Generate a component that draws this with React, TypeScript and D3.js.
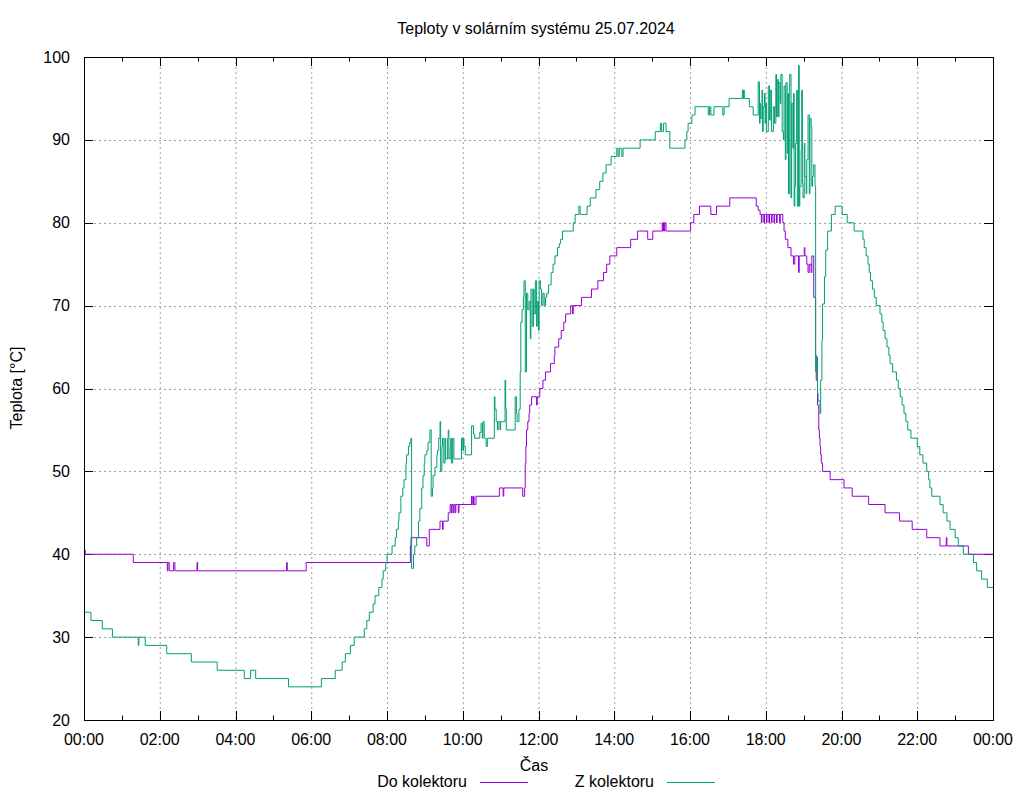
import React from "react";
import * as d3 from "d3";

// ---- data (time "HH:MM", temperature °C), values hold until next point ----
const doKolektoru: [string, number][] = [
  ["00:00", 40.5], ["00:02", 40], ["01:18", 39], ["02:12", 38], ["02:13", 39], ["02:15", 38],
  ["02:22", 39], ["02:24", 38], ["02:59", 39], ["03:00", 38], ["05:21", 39], ["05:22", 38],
  ["05:52", 39], ["08:37", 41], ["08:38", 42], ["09:03", 41], ["09:07", 43], ["09:24", 44],
  ["09:28", 43], ["09:29", 44], ["09:37", 45], ["09:40", 46], ["09:42", 45], ["09:43", 46],
  ["09:45", 45], ["09:46", 46], ["09:48", 45], ["09:49", 46], ["09:53", 45], ["09:54", 46],
  ["10:14", 47], ["10:15", 46], ["10:17", 47], ["10:18", 46], ["10:21", 47], ["10:58", 48],
  ["11:04", 47], ["11:05", 48], ["11:35", 47], ["11:38", 48], ["11:39", 51], ["11:40", 53],
  ["11:41", 55], ["11:43", 56], ["11:45", 57], ["11:46", 58], ["11:49", 59], ["11:57", 58],
  ["11:58", 59], ["12:02", 60], ["12:07", 61], ["12:11", 62], ["12:19", 63], ["12:25", 64],
  ["12:26", 65], ["12:32", 66], ["12:36", 67], ["12:40", 68], ["12:43", 69], ["12:51", 70],
  ["12:54", 69], ["12:55", 70], ["13:08", 71], ["13:24", 72], ["13:34", 73], ["13:43", 74],
  ["13:48", 75], ["13:53", 76], ["14:04", 77], ["14:26", 78], ["14:37", 79], ["14:53", 78],
  ["15:01", 79], ["15:16", 80], ["15:17", 79], ["15:18", 80], ["15:19", 79], ["15:20", 80],
  ["15:22", 79], ["16:01", 80], ["16:06", 81], ["16:15", 82], ["16:33", 81], ["16:42", 82],
  ["17:03", 83], ["17:45", 82], ["17:48", 81.5], ["17:51", 81], ["17:53", 80], ["17:54", 81],
  ["17:57", 80], ["17:58", 81], ["18:01", 80], ["18:02", 81], ["18:05", 80], ["18:06", 81],
  ["18:09", 80], ["18:10", 81], ["18:13", 80], ["18:14", 81], ["18:17", 80], ["18:18", 81],
  ["18:22", 80], ["18:23", 81], ["18:27", 80], ["18:29", 79], ["18:31", 78], ["18:35", 77],
  ["18:40", 76], ["18:44", 75], ["18:46", 76], ["18:52", 74], ["18:53", 76], ["19:01", 77],
  ["19:02", 76], ["19:05", 75], ["19:07", 74], ["19:09", 75], ["19:12", 74], ["19:13", 76],
  ["19:16", 71], ["19:19", 64], ["19:20", 61], ["19:22", 58], ["19:24", 55], ["19:25", 54],
  ["19:26", 53], ["19:27", 52], ["19:28", 51], ["19:30", 50], ["19:42", 49], ["20:04", 48],
  ["20:17", 47], ["20:43", 46], ["21:09", 45], ["21:32", 44], ["21:52", 43], ["22:15", 42],
  ["22:36", 41], ["22:46", 42], ["22:47", 41], ["23:21", 40],
];

const zKolektoru: [string, number][] = [
  ["00:00", 33], ["00:11", 32], ["00:29", 31], ["00:45", 30], ["01:26", 29], ["01:27", 30],
  ["01:37", 29], ["02:11", 28], ["02:50", 27], ["03:31", 26], ["04:14", 25], ["04:24", 26],
  ["04:32", 25], ["05:24", 24], ["06:16", 25], ["06:38", 26], ["06:49", 27], ["06:54", 28],
  ["07:02", 29], ["07:08", 30], ["07:24", 31], ["07:28", 32], ["07:32", 33], ["07:38", 34],
  ["07:41", 35], ["07:47", 36], ["07:52", 37], ["07:54", 38], ["07:58", 39], ["08:00", 40],
  ["08:08", 41], ["08:13", 42], ["08:15", 43], ["08:18", 44], ["08:19", 45], ["08:22", 47],
  ["08:25", 48], ["08:27", 49], ["08:30", 51], ["08:31", 52], ["08:34", 53], ["08:36", 53.5],
  ["08:38", 54], ["08:39", 38.3], ["08:42", 40], ["08:44", 41], ["08:47", 42], ["08:50", 44],
  ["08:52", 45.5], ["08:55", 48], ["08:57", 49.5], ["08:59", 51], ["09:00", 52], ["09:03", 52.5],
  ["09:05", 53.5], ["09:08", 55], ["09:10", 47], ["09:12", 48], ["09:13", 49.5], ["09:16", 50.5],
  ["09:19", 52], ["09:20", 52.5], ["09:22", 54], ["09:24", 56], ["09:25", 50], ["09:27", 53],
  ["09:28", 54], ["09:30", 51], ["09:32", 54], ["09:33", 51.5], ["09:36", 54], ["09:37", 55],
  ["09:38", 51.5], ["09:40", 53], ["09:41", 54], ["09:42", 51], ["09:44", 54], ["09:46", 51.5],
  ["09:58", 54], ["10:00", 52.5], ["10:01", 54], ["10:02", 53], ["10:04", 52], ["10:14", 55.5],
  ["10:17", 54.5], ["10:19", 54], ["10:27", 54.7], ["10:29", 55.8], ["10:31", 54], ["10:32", 56],
  ["10:34", 54], ["10:37", 53], ["10:39", 54], ["10:50", 59], ["10:51", 57.5], ["10:53", 56],
  ["10:55", 55], ["10:56", 56], ["10:59", 55], ["11:00", 56], ["11:07", 61], ["11:08", 57.5],
  ["11:09", 55], ["11:23", 59], ["11:25", 57], ["11:26", 56], ["11:29", 57.5], ["11:31", 62],
  ["11:32", 68], ["11:34", 69.5], ["11:36", 71], ["11:37", 73], ["11:39", 62], ["11:41", 71.5],
  ["11:43", 69.5], ["11:45", 70.5], ["11:47", 66], ["11:48", 72], ["11:50", 67.5], ["11:52", 72],
  ["11:53", 69], ["11:55", 73], ["11:57", 67.5], ["11:58", 70.5], ["12:00", 67], ["12:01", 73],
  ["12:03", 72], ["12:05", 70], ["12:07", 71.5], ["12:09", 70], ["12:11", 71], ["12:13", 71.5],
  ["12:16", 72.5], ["12:20", 74], ["12:23", 75], ["12:26", 76], ["12:30", 77], ["12:33", 77.5],
  ["12:35", 78], ["12:38", 79], ["12:55", 80], ["12:58", 81], ["13:04", 82], ["13:06", 81],
  ["13:17", 82], ["13:22", 83], ["13:31", 84], ["13:37", 85], ["13:42", 86], ["13:47", 87],
  ["13:55", 88], ["14:04", 89], ["14:06", 88], ["14:08", 89], ["14:12", 88], ["14:14", 89],
  ["14:41", 90], ["15:05", 91], ["15:13", 92], ["15:15", 91], ["15:18", 92], ["15:22", 91],
  ["15:28", 89], ["15:52", 90], ["15:55", 91], ["15:57", 92], ["16:03", 93], ["16:08", 94],
  ["16:29", 93], ["16:31", 94], ["16:33", 93], ["16:38", 94], ["16:52", 93], ["16:54", 94],
  ["17:02", 95], ["17:23", 96], ["17:24", 95], ["17:25", 96], ["17:26", 95], ["17:34", 94],
  ["17:40", 93], ["17:48", 97], ["17:50", 92], ["17:51", 94.4], ["17:52", 92.6], ["17:54", 96],
  ["17:55", 91], ["17:56", 94], ["17:58", 95.6], ["17:59", 92], ["18:00", 94.4], ["18:01", 91],
  ["18:04", 96.5], ["18:06", 92.4], ["18:08", 96], ["18:09", 91], ["18:12", 94], ["18:14", 92],
  ["18:16", 97.9], ["18:17", 92.8], ["18:19", 97.3], ["18:20", 92.8], ["18:21", 96.9], ["18:23", 94.4],
  ["18:24", 97.9], ["18:26", 91], ["18:28", 90], ["18:29", 96.5], ["18:31", 87.6], ["18:32", 96.9],
  ["18:34", 88.4], ["18:35", 95.6], ["18:36", 83.5], ["18:38", 97.9], ["18:40", 83], ["18:41", 94.4],
  ["18:43", 89], ["18:44", 95.6], ["18:45", 82], ["18:46", 84.4], ["18:47", 89.6], ["18:49", 96],
  ["18:50", 82], ["18:52", 99], ["18:53", 82], ["18:54", 84.4], ["18:56", 88.8], ["18:57", 96],
  ["18:58", 84.8], ["18:59", 83], ["19:01", 89.6], ["19:02", 85.6], ["19:04", 83.5], ["19:05", 87.6],
  ["19:07", 93], ["19:09", 83.5], ["19:10", 92.6], ["19:12", 91.6], ["19:13", 84.4], ["19:14", 85.6],
  ["19:16", 87], ["19:18", 84.4], ["19:19", 62], ["19:21", 63.8], ["19:22", 59.4], ["19:23", 58.5],
  ["19:26", 57], ["19:27", 61], ["19:29", 65.8], ["19:30", 70.2], ["19:33", 73.5], ["19:35", 76.7],
  ["19:38", 79], ["19:44", 81], ["19:50", 82], ["20:01", 81], ["20:09", 80], ["20:20", 79],
  ["20:34", 78], ["20:36", 77], ["20:39", 76], ["20:42", 75], ["20:44", 74], ["20:46", 73],
  ["20:49", 72], ["20:52", 71], ["20:55", 70], ["21:01", 69], ["21:04", 68], ["21:06", 67],
  ["21:09", 66], ["21:12", 65], ["21:15", 64], ["21:17", 63], ["21:21", 62], ["21:27", 61],
  ["21:30", 60], ["21:33", 59], ["21:36", 58], ["21:39", 57], ["21:42", 56], ["21:45", 55],
  ["21:50", 54], ["22:00", 53], ["22:04", 52], ["22:09", 51], ["22:15", 50], ["22:18", 49],
  ["22:20", 48], ["22:23", 47], ["22:36", 46], ["22:41", 45], ["22:47", 44], ["22:52", 43],
  ["23:00", 42], ["23:05", 41], ["23:13", 40], ["23:29", 39], ["23:34", 38], ["23:42", 37],
  ["23:51", 36],
];

const xTickLabels = ["00:00", "02:00", "04:00", "06:00", "08:00", "10:00", "12:00",
  "14:00", "16:00", "18:00", "20:00", "22:00", "00:00"];
const yTicks = [20, 30, 40, 50, 60, 70, 80, 90, 100];

const seriesNames = ["Do kolektoru", "Z kolektoru"];
const seriesColors = ["#9400d3", "#009e73"];

const FONT = "'Liberation Sans', Arial, Helvetica, sans-serif";

const toMin = (s: string) => {
  const [h, m] = s.split(":").map(Number);
  return h * 60 + m;
};

export default function App() {
  const W = 1024, H = 800;
  const left = 84, right = 993, top = 57, bottom = 720;
  const x = d3.scaleLinear().domain([0, 1440]).range([left, right]);
  const y = d3.scaleLinear().domain([20, 100]).range([bottom, top]);

  const prep = (arr: [string, number][]) => {
    const pts: [number, number][] = arr.map(([t, v]) => [toMin(t), v]);
    pts.push([1440, arr[arr.length - 1][1]]);
    return pts;
  };
  const line = d3.line<[number, number]>()
    .x((d) => x(d[0]))
    .y((d) => y(d[1]))
    .curve(d3.curveStepAfter);

  const hourTicks = d3.range(0, 25).map((h) => h * 60);
  const gridStroke = "#a0a0a0";

  return (
    <svg width={W} height={H} style={{ position: "absolute", left: 0, top: 0, background: "#fff" }}
      fontFamily={FONT}>
      <rect x={0} y={0} width={W} height={H} fill="#fff" />
      {/* grid */}
      {hourTicks.filter((m) => m % 120 === 0 && m > 0 && m < 1440).map((m) => (
        <line key={"gx" + m} x1={x(m) + 0.5} x2={x(m) + 0.5} y1={top} y2={bottom}
          stroke={gridStroke} strokeWidth={1} strokeDasharray="2,3" />
      ))}
      {yTicks.filter((v) => v > 20 && v < 100).map((v) => (
        <line key={"gy" + v} x1={left} x2={right} y1={Math.round(y(v)) + 0.5} y2={Math.round(y(v)) + 0.5}
          stroke={gridStroke} strokeWidth={1} strokeDasharray="2,3" />
      ))}
      {/* ticks */}
      {hourTicks.map((m) => {
        const len = m % 120 === 0 ? 9 : 4.5;
        const xx = Math.round(x(m)) + 0.5;
        return (
          <g key={"tx" + m}>
            <line x1={xx} x2={xx} y1={bottom} y2={bottom - len} stroke="#000" />
            <line x1={xx} x2={xx} y1={top} y2={top + len} stroke="#000" />
          </g>
        );
      })}
      {yTicks.map((v) => {
        const yy = Math.round(y(v)) + 0.5;
        return (
          <g key={"ty" + v}>
            <line x1={left} x2={left + 9} y1={yy} y2={yy} stroke="#000" />
            <line x1={right} x2={right - 9} y1={yy} y2={yy} stroke="#000" />
          </g>
        );
      })}
      {/* series */}
      {[doKolektoru, zKolektoru].map((s, i) => (
        <path key={"s" + i} d={line(prep(s)) || ""} fill="none" stroke={seriesColors[i]}
          strokeWidth={1} />
      ))}
      {/* border */}
      <rect x={left + 0.5} y={top + 0.5} width={right - left} height={bottom - top}
        fill="none" stroke="#000" strokeWidth={1} />
      {/* tick labels */}
      {yTicks.map((v) => (
        <text key={"ly" + v} x={70} y={y(v)} dy="0.35em" textAnchor="end" fontSize={16}>{v}</text>
      ))}
      {xTickLabels.map((lbl, i) => (
        <text key={"lx" + i} x={x(i * 120)} y={745} textAnchor="middle" fontSize={16}>{lbl}</text>
      ))}
      {/* titles */}
      <text x={536} y={34} textAnchor="middle" fontSize={16}>Teploty v solárním systému 25.07.2024</text>
      <text x={0} y={0} transform={`translate(22,388) rotate(-90)`} textAnchor="middle" fontSize={16}>Teplota [°C]</text>
      <text x={534} y={771} textAnchor="middle" fontSize={16}>Čas</text>
      {/* legend */}
      {seriesNames.map((n, i) => {
        const tx = i === 0 ? 467 : 654;
        return (
          <g key={"lg" + i}>
            <text x={tx} y={787} textAnchor="end" fontSize={16}>{n}</text>
            <line x1={tx + 13} x2={tx + 61} y1={782.5} y2={782.5} stroke={seriesColors[i]} strokeWidth={1} />
          </g>
        );
      })}
    </svg>
  );
}
